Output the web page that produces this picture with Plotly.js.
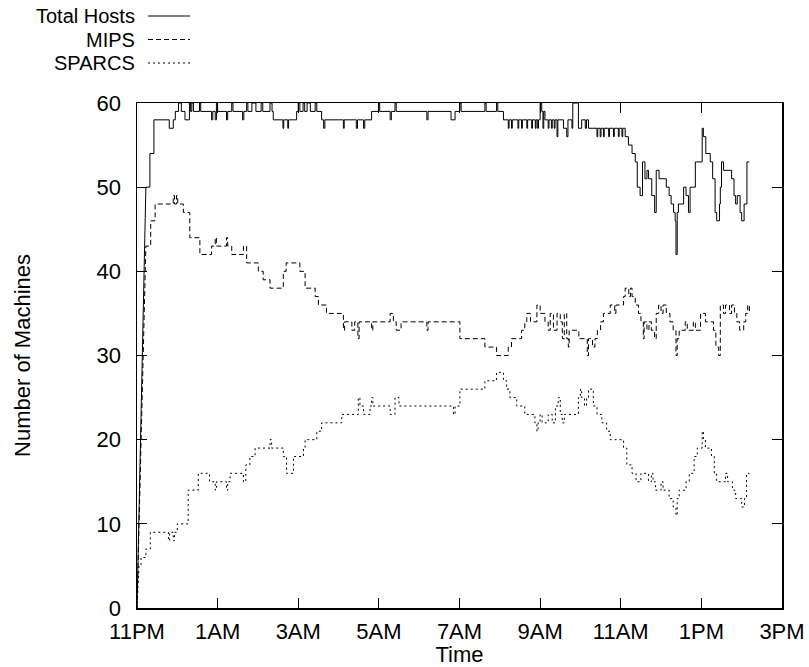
<!DOCTYPE html>
<html>
<head>
<meta charset="utf-8">
<script src="https://cdn.plot.ly/plotly-3.0.1.min.js"></script>
<style>html,body{margin:0;padding:0;background:#fff}</style>
</head>
<body>
<div id="chart" style="width:809px;height:667px"></div>
<script>
// Hours after 11PM
const tickHours = [0, 2, 4, 6, 8, 10, 12, 14, 16];
const tickLabels = ["11PM", "1AM", "3AM", "5AM", "7AM", "9AM", "11AM", "1PM", "3PM"];
const seriesNames = ["Total Hosts", "MIPS", "SPARCS"];

const totalT = [0,0.22,0.32,0.42,0.80,0.90,0.95,1.03,1.10,1.19,1.30,1.33,1.36,1.40,1.55,1.58,1.85,1.88,1.94,1.97,2.00,2.22,2.25,2.35,2.38,2.62,2.65,2.72,2.75,2.85,2.95,3.08,3.12,3.30,3.35,3.38,3.62,3.64,3.74,3.76,3.96,4.00,4.04,4.12,4.16,4.22,4.30,4.42,4.46,4.58,4.63,4.66,5.12,5.14,5.44,5.47,5.62,5.65,5.82,5.99,6.02,6.28,6.31,6.40,6.43,7.19,7.22,7.79,7.89,8.01,8.04,8.63,8.66,8.92,8.95,9.09,9.21,9.23,9.29,9.31,9.45,9.47,9.54,9.56,9.67,9.69,9.79,9.81,9.88,9.90,9.94,9.96,10.00,10.04,10.07,10.09,10.12,10.20,10.22,10.28,10.30,10.35,10.37,10.42,10.44,10.58,10.66,10.69,10.79,10.81,10.95,11.03,11.12,11.15,11.20,11.41,11.43,11.49,11.51,11.57,11.59,11.70,11.72,11.82,11.84,11.94,11.96,12.03,12.05,12.11,12.19,12.23,12.28,12.36,12.41,12.48,12.54,12.60,12.65,12.69,12.77,12.84,12.88,12.95,13.13,13.20,13.25,13.31,13.35,13.37,13.40,13.43,13.56,13.62,13.68,13.72,13.85,14.02,14.05,14.11,14.22,14.28,14.34,14.38,14.45,14.47,14.50,14.55,14.75,14.81,14.85,14.89,14.96,15.00,15.06,15.13,15.19];
const totalV = [0,50,54,58,57,58,59,60,59,58,60,59,60,59,60,59,58,59,58,60,59,58,59,60,59,58,59,60,59,60,59,60,59,60,59,58,57,58,57,58,59,60,59,60,59,60,59,60,59,58,57,58,57,58,57,58,57,58,59,60,59,58,59,60,59,58,59,58,59,60,59,60,59,60,59,58,57,58,57,58,57,58,57,58,57,58,57,58,57,58,57,58,60,59,57,59,58,57,58,57,58,57,58,56,58,57,56,58,57,60,57,58,57,58,57,56,57,56,57,56,57,56,57,56,57,56,57,56,57,56,55,55,54,53,50,49,53,51,52,51,49,47,52,51,50,49,48,47,46,42,47,48,50,49,47,50,53,57,56,54,53,51,47,46,48,50,53,52,51,49,48,49,47,46,48,53,53];

const mipsT = [0,0.22,0.34,0.45,0.90,0.93,0.98,1.01,1.15,1.31,1.56,1.85,1.94,1.97,2.22,2.25,2.35,2.64,2.72,3.01,3.13,3.30,3.63,3.70,4.04,4.17,4.42,4.50,4.70,5.12,5.15,5.33,5.40,5.48,5.51,5.82,5.85,6.28,6.36,6.43,6.55,7.19,7.22,8.01,8.63,8.92,9.21,9.29,9.54,9.62,9.67,9.76,9.92,10.00,10.12,10.20,10.25,10.33,10.42,10.50,10.55,10.60,10.66,10.70,10.72,10.96,11.17,11.20,11.30,11.36,11.42,11.50,11.57,11.74,11.85,11.88,12.07,12.11,12.20,12.24,12.28,12.36,12.44,12.50,12.56,12.58,12.65,12.70,12.76,12.84,12.88,12.94,13.00,13.05,13.13,13.22,13.30,13.37,13.40,13.45,13.60,13.65,13.80,13.85,13.98,14.10,14.30,14.36,14.43,14.47,14.55,14.60,14.70,14.75,14.82,14.88,14.95,15.05,15.10,15.15,15.19];
const mipsV = [0,43,46,48,49,48,49,48,47,44,42,43,44,43,44,43,42,43,41,40,39,38,40,41,40,38,37,36,35,33,34,33,34,32,34,33,34,35,34,33,34,33,34,32,31,30,31,32,33,34,35,34,36,35,34,33,35,33,35,34,32,35,32,31,33,32,30,32,31,32,33,34,35,36,35,36,37,38,37,38,37,36,35,34,32,34,33,34,33,32,35,36,35,36,35,34,33,30,32,33,34,33,34,33,35,34,33,31,30,36,35,36,35,36,35,34,33,34,35,36,35];

const sparcT = [0,0.05,0.10,0.22,0.33,0.78,0.81,0.90,0.93,1.00,1.27,1.52,1.80,1.94,1.97,2.22,2.25,2.31,2.64,2.70,2.80,2.93,3.30,3.34,3.63,3.71,3.88,4.13,4.17,4.46,4.58,5.08,5.49,5.53,5.62,5.78,5.82,5.85,6.28,6.40,6.50,7.85,7.89,8.01,8.63,8.92,9.09,9.17,9.25,9.42,9.62,9.87,9.92,9.95,10.00,10.05,10.20,10.30,10.38,10.45,10.50,10.55,10.60,10.95,11.00,11.03,11.10,11.15,11.20,11.32,11.41,11.53,11.65,11.74,12.07,12.15,12.28,12.38,12.50,12.69,12.76,12.80,12.86,13.00,13.05,13.20,13.30,13.37,13.40,13.45,13.62,13.70,13.82,13.90,14.02,14.05,14.10,14.25,14.32,14.38,14.60,14.65,14.77,14.85,15.00,15.07,15.12,15.19];
const sparcV = [0,5,6,7,9,8,9,8,9,10,14,16,15,14,15,14,15,16,15,17,18,19,20,19,18,16,18,19,20,21,22,23,25,24,23,24,25,24,23,25,24,23,24,26,27,28,27,26,25,24,23,22,21,22,23,22,23,22,24,25,23,22,23,25,26,25,24,25,26,24,23,22,21,20,19,17,16,15,16,15,16,15,14,15,14,13,12,11,13,14,15,16,18,19,21,20,19,18,16,15,16,15,14,13,12,13,16,16];

// Build step path: first segment is a straight ramp, later points hold their value until the next time
function steps(t, v) {
  const x = [t[0], t[1]], y = [v[0], v[1]];
  for (let i = 2; i < t.length; i++) {
    x.push(t[i], t[i]);
    y.push(v[i - 1], v[i]);
  }
  return {x, y};
}

const font = "Liberation Sans, Arial, Helvetica, sans-serif";
const fs = 22;
const legFs = 20;
const styles = [
  {color: "#000", width: 1, dash: "solid"},
  {color: "#000", width: 1, dash: "5px,3px"},
  {color: "#000", width: 1, dash: "2px,3px"}
];
const all = [[totalT, totalV], [mipsT, mipsV], [sparcT, sparcV]];
const traces = all.map((d, i) => {
  const s = steps(d[0], d[1]);
  return {x: s.x, y: s.y, type: "scatter", mode: "lines", name: seriesNames[i],
    line: styles[i], showlegend: false, hoverinfo: "skip"};
});

const L = 137, R = 27, T = 103, B = 59, W = 809, H = 667;
const pw = W - L - R, ph = H - T - B;
const legY = [16, 39.5, 63];
// Legend built as text + sample lines (text right-aligned, sample on right)
const annotations = seriesNames.map((n, i) => ({
  text: n, xref: "paper", yref: "paper",
  x: (136 - L) / pw, y: (H - B - legY[i]) / ph,
  xanchor: "right", yanchor: "middle", showarrow: false, borderpad: 0,
  font: {family: font, size: legFs, color: "#000"}
}));
const shapes = seriesNames.map((n, i) => ({
  type: "line", xref: "paper", yref: "paper",
  x0: (148 - L) / pw, x1: (190 - L) / pw,
  y0: (H - B - legY[i]) / ph, y1: (H - B - legY[i]) / ph,
  line: styles[i]
}));

const layout = {
  width: W, height: H,
  margin: {l: L, r: R, t: T, b: B, pad: 0},
  paper_bgcolor: "#fff", plot_bgcolor: "#fff",
  font: {family: font, size: fs, color: "#000"},
  showlegend: false,
  xaxis: {
    range: [0, 16], tickvals: tickHours, ticktext: tickLabels,
    ticks: "inside", ticklen: 10, tickwidth: 1, tickcolor: "#000",
    showline: true, linecolor: "#000", linewidth: 1.5, mirror: "ticks",
    showgrid: false, zeroline: false, ticklabelstandoff: 3,
    tickfont: {family: font, size: fs},
    title: {text: "Time", font: {family: font, size: fs}, standoff: 0}
  },
  yaxis: {
    range: [0, 60], dtick: 10, tick0: 0,
    ticks: "inside", ticklen: 10, tickwidth: 1, tickcolor: "#000",
    showline: true, linecolor: "#000", linewidth: 1.5, mirror: "ticks",
    showgrid: false, zeroline: false, ticklabelstandoff: 10,
    tickfont: {family: font, size: fs},
    title: {text: "Number of Machines", font: {family: font, size: fs}, standoff: 60}
  },
  annotations: annotations,
  shapes: shapes
};

Plotly.newPlot("chart", traces, layout, {staticPlot: true});
</script>
</body>
</html>
